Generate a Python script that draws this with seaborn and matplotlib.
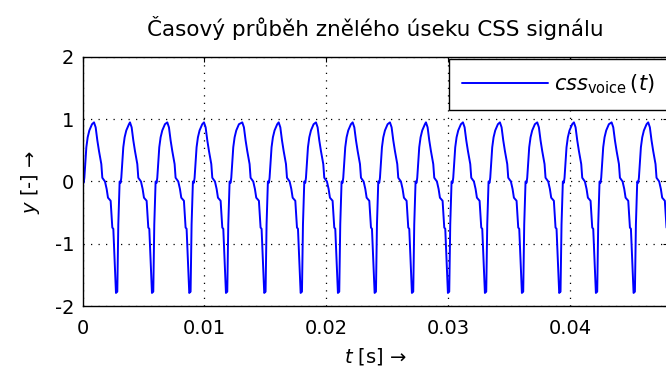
import numpy as np
import pandas as pd
import matplotlib
matplotlib.use("Agg")
import matplotlib.pyplot as plt
import seaborn as sns

# --- data ---
# times (s) of the waveform peaks
peak_times = [0.000943, 0.003893, 0.006951, 0.009959, 0.013098, 0.016082,
              0.019139, 0.022148, 0.025205, 0.028156, 0.031189, 0.034221,
              0.037279, 0.040287, 0.043377, 0.046377]
# one period of the waveform, offsets (ms) after each peak and the values
shape_offset_ms = [0.0, 0.136, 0.273, 0.409, 0.600, 0.682, 0.900, 1.037,
                   1.146, 1.364, 1.501, 1.583, 1.692, 1.801, 1.910, 1.992,
                   2.101, 2.183, 2.238, 2.401, 2.511, 2.647, 2.865]
shape_values = [0.95, 0.87, 0.66, 0.49, 0.28, 0.06, 0.00, -0.12,
                -0.26, -0.31, -0.74, -0.76, -1.28, -1.79, -1.77, -0.69,
                0.00, -0.02, 0.06, 0.55, 0.71, 0.82, 0.92]
period_s = 0.003029
x_max = 0.048
x_ticks = [0, 0.01, 0.02, 0.03, 0.04]
x_tick_labels = ["0", "0.01", "0.02", "0.03", "0.04"]
y_ticks = [-2, -1, 0, 1, 2]
y_tick_labels = ["-2", "-1", "0", "1", "2"]

# build the series from the read period shape placed at each read peak
starts = [peak_times[0] - period_s] + peak_times
ts, ys = [], []
for p in starts:
    for o, v in zip(shape_offset_ms, shape_values):
        t = p + o / 1000.0
        if 0 <= t <= x_max:
            ts.append(t)
            ys.append(v)
df = pd.DataFrame({"t": ts, "y": ys})

sns.set_style("white")
plt.rcParams["font.family"] = ["DejaVu Sans"]
plt.rcParams["axes.unicode_minus"] = False
plt.rcParams["mathtext.fontset"] = "dejavusans"
plt.rcParams["text.color"] = "black"
plt.rcParams["axes.labelcolor"] = "black"
plt.rcParams["axes.titlecolor"] = "black"

W, H = 666, 380
fig = plt.figure(figsize=(W / 100, H / 100), dpi=100)
left, right, top, bottom = 82.5, 668.0, 57.0, 306.0
ax = fig.add_axes([left / W, (H - bottom) / H, (right - left) / W, (bottom - top) / H])

sns.lineplot(data=df, x="t", y="y", sort=False, estimator=None, ax=ax,
             color="#0000FF", linewidth=1.4,
             label=r"$\mathit{css}_{\mathrm{voice}}\,(\mathit{t})$")

ax.set_xlim(0, x_max)
ax.set_ylim(-2, 2)
ax.set_xticks(x_ticks)
ax.set_xticklabels(x_tick_labels)
ax.set_yticks(y_ticks)
ax.set_yticklabels(y_tick_labels)
ax.tick_params(direction="in", top=True, right=True, length=3.5, width=0.8,
               labelsize=14, colors="black")
ax.tick_params(axis="x", pad=9)
ax.tick_params(axis="y", pad=6)
for s in ax.spines.values():
    s.set_visible(True)
    s.set_color("black")
    s.set_linewidth(1.0)
ax.grid(True, color="black", linestyle=(0, (1, 5)), linewidth=0.9)

ax.set_xlabel(r"$\mathit{t}$ [s] →", fontsize=14, labelpad=6, color="black")
ax.set_ylabel(r"$\mathit{y}$ [-] →", fontsize=14, labelpad=9, color="black")
ax.set_title("Časový průběh znělého úseku CSS signálu", fontsize=15.5, pad=15,
             color="black")

leg = ax.legend(loc="upper right", bbox_to_anchor=(1.0, 0.992), fontsize=15,
                frameon=True, fancybox=False, framealpha=1, edgecolor="black",
                handlelength=4.1, handletextpad=0.3, borderpad=0.65,
                borderaxespad=0.0)
leg.get_frame().set_linewidth(1.0)
for txt in leg.get_texts():
    txt.set_color("black")

fig.savefig("out.png", dpi=100)
